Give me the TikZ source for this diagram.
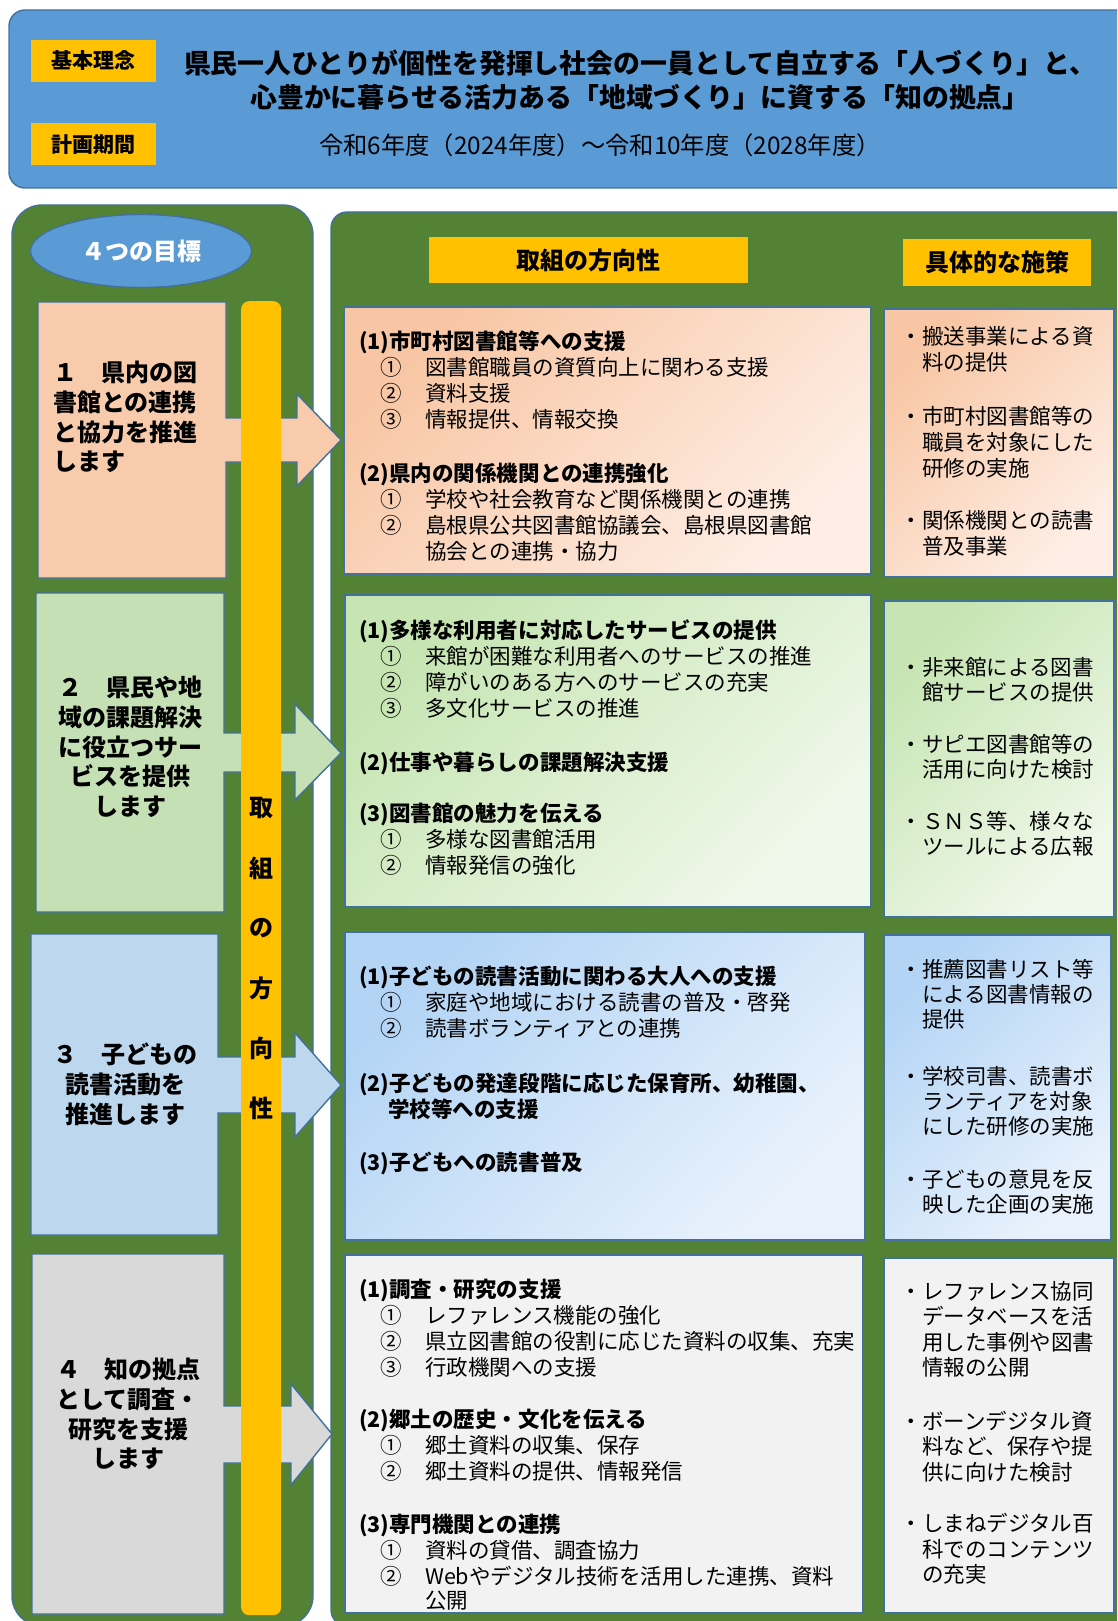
\documentclass[tikz,border=0pt]{standalone}
\usepackage{fontspec}
\setmainfont{Noto Sans CJK JP}
\usetikzlibrary{shapes.geometric}
\definecolor{bannerblue}{HTML}{5B9BD5}
\definecolor{edgeblue}{HTML}{41719C}
\definecolor{gold}{HTML}{FFC000}
\definecolor{panelgreen}{HTML}{548235}
\definecolor{gA}{HTML}{F8CBAD}
\definecolor{gB}{HTML}{C5E0B4}
\definecolor{gC}{HTML}{BDD7EE}
\definecolor{gD}{HTML}{D9D9D9}
\definecolor{dAtop}{HTML}{F8C6A4}
\definecolor{dAbot}{HTML}{FEEEE5}
\definecolor{dBtop}{HTML}{C6E5B2}
\definecolor{dBbot}{HTML}{F0F8EB}
\definecolor{dCtop}{HTML}{B3D4F5}
\definecolor{dCbot}{HTML}{E9F2FC}
\definecolor{dD}{HTML}{F2F2F2}
\newcommand\inum[1]{\hspace*{21pt}\makebox[45pt][l]{#1}}
\newcommand\bul{\makebox[22pt][l]{・}}
\newcommand\cont{\hspace*{22pt}}
\begin{document}
\begin{tikzpicture}[x=1pt,y=-1pt,
 edge/.style={draw=edgeblue,line width=1.4pt},
 tagbox/.style={fill=gold,inner sep=0pt,minimum width=125pt,minimum height=42pt,font=\bfseries\fontsize{21}{24}\selectfont},
 headbox/.style={fill=gold,inner sep=0pt,font=\bfseries\fontsize{24}{28}\selectfont},
 card/.style={edge,anchor=north west,inner sep=0pt,outer sep=0pt},
 bodytext/.style={anchor=north west,inner sep=0pt,align=left,font=\fontsize{21.5}{26}\selectfont},
 meastext/.style={anchor=north west,inner sep=0pt,align=left,font=\fontsize{21.5}{#1}\selectfont},
 goaltext/.style={inner sep=0pt,font=\bfseries\fontsize{24}{29.7}\selectfont},
 barchar/.style={font=\bfseries\fontsize{24}{28}\selectfont,inner sep=0pt},
]
\useasboundingbox (0,0) rectangle (1117,1621);
\clip (0,0) rectangle (1117,1621);

% banner
\draw[edge,fill=bannerblue,rounded corners=16pt] (9,10) rectangle (1140,188);
\node[tagbox] (kihon) at (93.5,61) {基本理念};
\node[tagbox] (kikan) at (93.5,144.5) {計画期間};
\node[align=center,inner sep=0pt,font=\bfseries\fontsize{26.9}{34}\selectfont] (title) at (640,80)
 {県民一人ひとりが個性を発揮し社会の一員として自立する「人づくり」と、\\心豊かに暮らせる活力ある「地域づくり」に資する「知の拠点」};
\node[inner sep=0pt,font=\fontsize{24.3}{28}\selectfont] (period) at (600,145) {令和6年度（2024年度）～令和10年度（2028年度）};

% panels
\draw[edge,fill=panelgreen,rounded corners=30pt] (12,205) rectangle (313,1626);
\draw[edge,fill=panelgreen,rounded corners=16pt] (331,212) rectangle (1140,1626);

% ellipse
\node[ellipse,edge,fill=bannerblue,minimum width=221pt,minimum height=73pt,inner sep=0pt,text=white,font=\bfseries\fontsize{24}{28}\selectfont] (goals) at (141,251) {４つの目標};

% goal arrow shapes
\draw[edge,fill=gA] (38,302) -- (226,302) -- (226,418) -- (297,418) -- (297,394) -- (341,440) -- (297,486) -- (297,462) -- (226,462) -- (226,578) -- (38,578) -- cycle;
\draw[edge,fill=gB] (36,593) -- (224,593) -- (224,733) -- (295,733) -- (295,704) -- (341,753) -- (295,800) -- (295,772) -- (224,772) -- (224,912) -- (36,912) -- cycle;
\draw[edge,fill=gC] (31,934) -- (218,934) -- (218,1057) -- (295,1057) -- (295,1033) -- (341,1085) -- (295,1137) -- (295,1113) -- (218,1113) -- (218,1235) -- (31,1235) -- cycle;
\draw[edge,fill=gD] (32,1254) -- (224,1254) -- (224,1406) -- (291,1406) -- (291,1384) -- (332,1434) -- (291,1485) -- (291,1463) -- (224,1463) -- (224,1614) -- (32,1614) -- cycle;

\node[goaltext,anchor=north west,align=left] (g1t) at (53,361) {１　県内の図\\書館との連携\\と協力を推進\\します};
\node[goaltext,anchor=north,align=center] (g2t) at (130,676) {２　県民や地\\域の課題解決\\に役立つサー\\ビスを提供\\します};
\node[goaltext,anchor=north,align=center] (g3t) at (125,1043) {３　子どもの\\読書活動を\\推進します};
\node[goaltext,anchor=north,align=center] (g4t) at (128,1358) {４　知の拠点\\として調査・\\研究を支援\\します};

% vertical bar
\node[fill=gold,rounded corners=8pt,minimum width=40pt,minimum height=1314pt,inner sep=0pt,anchor=north west] (bar) at (241,301) {};
\node[barchar] (b1) at (261,808) {取};
\node[barchar] (b2) at (261,868) {組};
\node[barchar] (b3) at (261,928) {の};
\node[barchar] (b4) at (261,988) {方};
\node[barchar] (b5) at (261,1048) {向};
\node[barchar] (b6) at (261,1108) {性};

% headers
\node[headbox,minimum width=319pt,minimum height=46pt] (hdir) at (588.5,260) {取組の方向性};
\node[headbox,minimum width=188pt,minimum height=47pt] (hmeas) at (997,262.5) {具体的な施策};

% cards
\node[card,minimum width=527pt,minimum height=267pt,top color=dAtop,bottom color=dAbot,shading angle=45] (d1) at (344,307) {};
\node[card,minimum width=526pt,minimum height=312pt,top color=dBtop,bottom color=dBbot,shading angle=45] (d2) at (345,595) {};
\node[card,minimum width=520pt,minimum height=308pt,top color=dCtop,bottom color=dCbot,shading angle=45] (d3) at (345,932) {};
\node[card,minimum width=518pt,minimum height=358pt,fill=dD] (d4) at (345,1255) {};
\node[card,minimum width=230pt,minimum height=268pt,top color=dAtop,bottom color=dAbot,shading angle=45] (m1) at (884,309) {};
\node[card,minimum width=230pt,minimum height=316pt,top color=dBtop,bottom color=dBbot,shading angle=45] (m2) at (884,601) {};
\node[card,minimum width=227pt,minimum height=305pt,top color=dCtop,bottom color=dCbot,shading angle=45] (m3) at (884,935) {};
\node[card,minimum width=230pt,minimum height=355pt,fill=dD] (m4) at (884,1258) {};

% direction texts
\node[bodytext] (d1t) at (359,331) {%
{\bfseries (1)市町村図書館等への支援}\\
\inum{①}図書館職員の資質向上に関わる支援\\
\inum{②}資料支援\\
\inum{③}情報提供、情報交換\\[28pt]
{\bfseries (2)県内の関係機関との連携強化}\\
\inum{①}学校や社会教育など関係機関との連携\\
\inum{②}島根県公共図書館協議会、島根県図書館\\
\hspace*{66pt}協会との連携・協力};

\node[bodytext] (d2t) at (359,620) {%
{\bfseries (1)多様な利用者に対応したサービスの提供}\\
\inum{①}来館が困難な利用者へのサービスの推進\\
\inum{②}障がいのある方へのサービスの充実\\
\inum{③}多文化サービスの推進\\[28pt]
{\bfseries (2)仕事や暮らしの課題解決支援}\\[25pt]
{\bfseries (3)図書館の魅力を伝える}\\
\inum{①}多様な図書館活用\\
\inum{②}情報発信の強化};

\node[bodytext] (d3t) at (359,966) {%
{\bfseries (1)子どもの読書活動に関わる大人への支援}\\
\inum{①}家庭や地域における読書の普及・啓発\\
\inum{②}読書ボランティアとの連携\\[29pt]
{\bfseries (2)子どもの発達段階に応じた保育所、幼稚園、}\\
\hspace*{29pt}{\bfseries 学校等への支援}\\[27pt]
{\bfseries (3)子どもへの読書普及}};

\node[bodytext] (d4t) at (359,1279) {%
{\bfseries (1)調査・研究の支援}\\
\inum{①}レファレンス機能の強化\\
\inum{②}県立図書館の役割に応じた資料の収集、充実\\
\inum{③}行政機関への支援\\[26pt]
{\bfseries (2)郷土の歴史・文化を伝える}\\
\inum{①}郷土資料の収集、保存\\
\inum{②}郷土資料の提供、情報発信\\[27pt]
{\bfseries (3)専門機関との連携}\\
\inum{①}資料の貸借、調査協力\\
\inum{②}Webやデジタル技術を活用した連携、資料\\[-2pt]
\hspace*{66pt}公開};

% measure texts
\node[meastext=26] (m1t) at (900,326) {%
\bul 搬送事業による資\\ \cont 料の提供\\[28pt]
\bul 市町村図書館等の\\ \cont 職員を対象にした\\ \cont 研修の実施\\[26pt]
\bul 関係機関との読書\\ \cont 普及事業};

\node[meastext=25.5] (m2t) at (900,657) {%
\bul 非来館による図書\\ \cont 館サービスの提供\\[26pt]
\bul サピエ図書館等の\\ \cont 活用に向けた検討\\[26pt]
\bul ＳＮＳ等、様々な\\ \cont ツールによる広報};

\node[meastext=25] (m3t) at (900,959) {%
\bul 推薦図書リスト等\\ \cont による図書情報の\\ \cont 提供\\[32pt]
\bul 学校司書、読書ボ\\ \cont ランティアを対象\\ \cont にした研修の実施\\[28pt]
\bul 子どもの意見を反\\ \cont 映した企画の実施};

\node[meastext=25.5] (m4t) at (900,1281) {%
\bul レファレンス協同\\ \cont データベースを活\\ \cont 用した事例や図書\\ \cont 情報の公開\\[28pt]
\bul ボーンデジタル資\\ \cont 料など、保存や提\\ \cont 供に向けた検討\\[26pt]
\bul しまねデジタル百\\ \cont 科でのコンテンツ\\ \cont の充実};
\end{tikzpicture}
\end{document}
